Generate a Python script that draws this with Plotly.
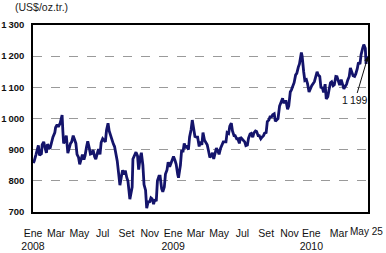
import plotly.graph_objects as go

dates = [
    "2008-01-02","2008-01-04","2008-01-09","2008-01-11","2008-01-15","2008-01-18","2008-01-23","2008-01-25","2008-01-29",
    "2008-02-01","2008-02-05","2008-02-08","2008-02-13","2008-02-15","2008-02-20","2008-02-22","2008-02-27","2008-02-29",
    "2008-03-04","2008-03-07","2008-03-12","2008-03-14","2008-03-17","2008-03-19","2008-03-21","2008-03-25","2008-03-28",
    "2008-04-01","2008-04-04","2008-04-08","2008-04-11","2008-04-15","2008-04-18","2008-04-22","2008-04-25","2008-04-29",
    "2008-05-02","2008-05-06","2008-05-09","2008-05-13","2008-05-16","2008-05-20","2008-05-23","2008-05-27","2008-05-30",
    "2008-06-03","2008-06-06","2008-06-10","2008-06-13","2008-06-17","2008-06-20","2008-06-24","2008-06-27",
    "2008-07-01","2008-07-04","2008-07-08","2008-07-11","2008-07-15","2008-07-18","2008-07-22","2008-07-25","2008-07-29",
    "2008-08-01","2008-08-05","2008-08-08","2008-08-12","2008-08-15","2008-08-19","2008-08-22","2008-08-26","2008-08-29",
    "2008-09-02","2008-09-05","2008-09-10","2008-09-12","2008-09-16","2008-09-18","2008-09-22","2008-09-26","2008-09-30",
    "2008-10-03","2008-10-07","2008-10-10","2008-10-14","2008-10-17","2008-10-21","2008-10-24","2008-10-28","2008-10-31",
    "2008-11-04","2008-11-07","2008-11-11","2008-11-14","2008-11-18","2008-11-21","2008-11-25","2008-11-28",
    "2008-12-02","2008-12-05","2008-12-09","2008-12-12","2008-12-16","2008-12-19","2008-12-23","2008-12-30",
    "2009-01-02","2009-01-06","2009-01-09","2009-01-13","2009-01-15","2009-01-20","2009-01-23","2009-01-27","2009-01-30",
    "2009-02-03","2009-02-06","2009-02-10","2009-02-13","2009-02-17","2009-02-20","2009-02-24","2009-02-27",
    "2009-03-03","2009-03-06","2009-03-10","2009-03-13","2009-03-17","2009-03-20","2009-03-24","2009-03-27","2009-03-31",
    "2009-04-03","2009-04-07","2009-04-10","2009-04-14","2009-04-17","2009-04-21","2009-04-24","2009-04-28",
    "2009-05-01","2009-05-05","2009-05-08","2009-05-12","2009-05-15","2009-05-19","2009-05-22","2009-05-26","2009-05-29",
    "2009-06-02","2009-06-05","2009-06-09","2009-06-12","2009-06-16","2009-06-19","2009-06-23","2009-06-26","2009-06-30",
    "2009-07-03","2009-07-07","2009-07-10","2009-07-14","2009-07-17","2009-07-21","2009-07-24","2009-07-28","2009-07-31",
    "2009-08-04","2009-08-07","2009-08-11","2009-08-14","2009-08-18","2009-08-21","2009-08-25","2009-08-28",
    "2009-09-01","2009-09-04","2009-09-08","2009-09-11","2009-09-15","2009-09-18","2009-09-22","2009-09-25","2009-09-29",
    "2009-10-02","2009-10-06","2009-10-09","2009-10-14","2009-10-16","2009-10-20","2009-10-23","2009-10-27","2009-10-30",
    "2009-11-03","2009-11-06","2009-11-10","2009-11-13","2009-11-17","2009-11-20","2009-11-24","2009-11-27",
    "2009-12-02","2009-12-04","2009-12-08","2009-12-11","2009-12-15","2009-12-18","2009-12-22","2009-12-29",
    "2010-01-05","2010-01-08","2010-01-12","2010-01-15","2010-01-19","2010-01-22","2010-01-26","2010-01-29",
    "2010-02-02","2010-02-05","2010-02-09","2010-02-12","2010-02-16","2010-02-19","2010-02-23","2010-02-26",
    "2010-03-02","2010-03-05","2010-03-09","2010-03-12","2010-03-16","2010-03-19","2010-03-23","2010-03-26","2010-03-30",
    "2010-04-02","2010-04-06","2010-04-09","2010-04-13","2010-04-16","2010-04-20","2010-04-23","2010-04-27","2010-04-30",
    "2010-05-04","2010-05-07","2010-05-11","2010-05-14","2010-05-18","2010-05-20","2010-05-21","2010-05-25",
]

prices = [
    857, 863, 885, 897, 914, 882, 887, 916, 925,
    908, 890, 918, 905, 906, 935, 940, 955, 971,
    980, 973, 985, 999, 1011, 960, 920, 930, 945,
    889, 907, 920, 925, 945, 934, 920, 885, 875,
    853, 873, 884, 868, 881, 910, 927, 905, 886,
    888, 899, 877, 870, 888, 902, 885, 923,
    935, 932, 925, 962, 985, 960, 945, 927, 918,
    910, 885, 864, 820, 786, 815, 834, 820, 833,
    810, 799, 741, 760, 780, 870, 880, 892, 880,
    836, 875, 890, 850, 788, 770, 712, 735, 730,
    745, 742, 725, 740, 735, 800, 815, 815,
    775, 765, 780, 822, 835, 860, 845, 870,
    878, 865, 853, 820, 810, 850, 895, 895, 920,
    905, 913, 900, 941, 965, 995, 965, 942,
    940, 940, 910, 926, 915, 955, 930, 922, 916,
    899, 875, 880, 890, 870, 890, 905, 895,
    885, 905, 913, 925, 925, 925, 955, 952, 975,
    985, 960, 945, 945, 935, 935, 920, 940, 935,
    932, 925, 913, 915, 937, 950, 952, 940, 954,
    960, 958, 945, 945, 935, 940, 945, 953,
    955, 990, 995, 1005, 1005, 1012, 1015, 991, 995,
    1000, 1040, 1050, 1065, 1050, 1055, 1055, 1030, 1040,
    1085, 1092, 1105, 1115, 1140, 1145, 1165, 1175,
    1212, 1200, 1150, 1122, 1125, 1112, 1085, 1105,
    1118, 1136, 1150, 1140, 1135, 1100, 1098, 1084,
    1110, 1063, 1070, 1091, 1115, 1118, 1105, 1108,
    1135, 1134, 1120, 1107, 1125, 1110, 1095, 1102, 1110,
    1123, 1135, 1162, 1150, 1137, 1135, 1143, 1160, 1180,
    1175, 1205, 1225, 1237, 1225, 1175, 1190, 1199,
]

x_tick_dates = ["2008-01-01","2008-03-01","2008-05-01","2008-07-01","2008-09-01","2008-11-01",
                "2009-01-01","2009-03-01","2009-05-01","2009-07-01","2009-09-01","2009-11-01",
                "2009-12-28","2010-03-10"]
x_tick_labels = ["Ene<br>2008","Mar","May","Jul","Set","Nov",
                 "Ene<br>2009","Mar","May","Jul","Set","Nov",
                 "Ene<br>2010","Mar"]
end_label = "May 25"
y_tick_vals = [700, 800, 900, 1000, 1100, 1200, 1300]
y_tick_labels = ["700", "800", "900", "1\u2009000", "1\u2009100", "1\u2009200", "1\u2009300"]
unit_label = "(US$/oz.tr.)"
last_label = "1\u2009199"

FONT = "Liberation Sans, Arial, sans-serif"

fig = go.Figure()
fig.add_trace(go.Scatter(x=dates, y=prices, mode="lines",
                         line=dict(color="#14146b", width=2.8), showlegend=False))

fig.update_layout(
    width=386, height=253,
    margin=dict(l=33, r=18, t=25, b=41),
    paper_bgcolor="white", plot_bgcolor="white",
    font=dict(family=FONT, size=10, color="#111"),
    xaxis=dict(type="date", range=["2008-01-01", "2010-05-25"], automargin=False,
               tickmode="array", tickvals=x_tick_dates, ticktext=x_tick_labels,
               showgrid=False, zeroline=False, ticks="", ticklabelstandoff=10,
               showline=True, linecolor="black", linewidth=2, mirror=True,
               tickangle=0, tickfont=dict(family=FONT, size=10.5, color="#111")),
    yaxis=dict(range=[700, 1300], tickmode="array", tickvals=y_tick_vals,
               ticktext=y_tick_labels,
               automargin=False,
               showgrid=True, gridcolor="#9a9a9a", griddash="dash", gridwidth=1,
               zeroline=False, ticks="", ticklabelstandoff=5,
               showline=True, linecolor="black", linewidth=1.5, mirror=True,
               tickfont=dict(family=FONT, size=9.5, color="#111", weight="bold")),
    annotations=[
        dict(text=unit_label, xref="paper", yref="paper", x=-0.06, y=1.095,
             xanchor="left", yanchor="middle", showarrow=False,
             font=dict(family=FONT, size=10.5, color="#222")),
        dict(text=end_label, xref="paper", yref="paper", x=1.052, y=-0.065,
             xanchor="right", yanchor="top", showarrow=False,
             font=dict(family=FONT, size=10, color="#111")),
        dict(text=last_label, x=dates[-1], y=prices[-1], xref="x", yref="y",
             ax=-13, ay=44, showarrow=True, arrowhead=2, arrowsize=1, arrowwidth=1,
             arrowcolor="#111", font=dict(family=FONT, size=10.5, color="#111")),
    ],
)

fig.write_html("out.html")
